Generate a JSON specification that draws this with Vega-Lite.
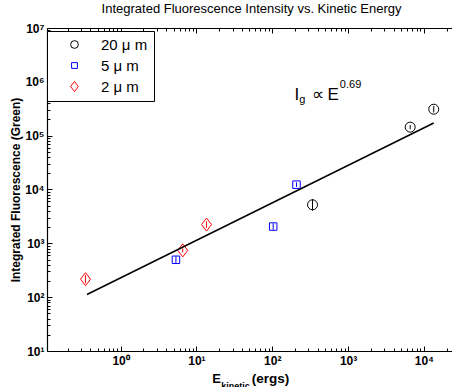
{
  "$schema": "https://vega.github.io/schema/vega-lite/v6.json",
  "autosize": {"type": "none"},
  "padding": {"left": 47, "top": 28, "right": 0, "bottom": 36},
  "width": 405,
  "height": 323,
  "title": {"text": "Integrated Fluorescence Intensity vs. Kinetic Energy", "font": "Liberation Sans", "fontSize": 13, "fontWeight": "normal", "color": "black", "offset": 6, "anchor": "middle", "dx": 2},
  "config": {
    "view": {"stroke": null},
    "font": "Liberation Sans",
    "axis": {"grid": false, "domainColor": "black", "domainWidth": 1.2, "tickColor": "black", "tickWidth": 1,
      "labelFont": "Liberation Sans", "labelFontWeight": "bold", "labelFontSize": 12, "labelColor": "black",
      "labelOverlap": false, "labelFlush": false, "labelBound": false,
      "titleFont": "Liberation Sans", "titleFontWeight": "bold", "titleColor": "black"}
  },
  "datasets": {
    "pts": [
      {"series": "20 μ m", "E": 340, "I": 5200, "lo": 4056, "hi": 6666},
      {"series": "20 μ m", "E": 6600, "I": 144000, "lo": 132000, "hi": 157000},
      {"series": "20 μ m", "E": 13500, "I": 310000, "lo": 270000, "hi": 357000},
      {"series": "5 μ m", "E": 209, "I": 12300, "lo": 11180, "hi": 13530},
      {"series": "5 μ m", "E": 103, "I": 2050, "lo": 1783, "hi": 2357},
      {"series": "5 μ m", "E": 5.37, "I": 495, "lo": 427, "hi": 574},
      {"series": "2 μ m", "E": 0.345, "I": 216, "lo": 182, "hi": 256},
      {"series": "2 μ m", "E": 6.6, "I": 740, "lo": 679, "hi": 807},
      {"series": "2 μ m", "E": 13.6, "I": 2230, "lo": 1939, "hi": 2565}
    ],
    "fit": [
      {"E": 0.36, "I": 112},
      {"E": 13500, "I": 172000}
    ],
    "bigtext": [
      {"t": "I", "E": 196, "I": 460000},
      {"t": "∝", "E": 330, "I": 460000},
      {"t": "E", "E": 534, "I": 460000}
    ],
    "smalltext": [
      {"t": "g", "E": 228, "I": 405000},
      {"t": "0.69", "E": 780, "I": 770000}
    ]
  },
  "resolve": {"axis": {"x": "independent"}},
  "layer": [
    {
      "data": {"name": "pts"},
      "mark": {"type": "point", "filled": false, "size": 100, "strokeWidth": 1, "opacity": 1},
      "encoding": {
        "x": {"field": "E", "type": "quantitative",
          "scale": {"type": "log", "domain": [0.107, 23500], "nice": false},
          "axis": {"orient": "bottom",
            "values": [0.2,0.3,0.4,0.5,0.6,0.7,0.8,0.9,1,2,3,4,5,6,7,8,9,10,20,30,40,50,60,70,80,90,100,200,300,400,500,600,700,800,900,1000,2000,3000,4000,5000,6000,7000,8000,9000,10000,20000],
            "labelExpr": "abs(log(datum.value)/LN10 - round(log(datum.value)/LN10)) < 0.001 ? '10' + ['⁰','¹','²','³','⁴','⁵','⁶','⁷'][round(log(datum.value)/LN10)] : ''",
            "tickSize": {"condition": {"test": "abs(log(datum.value)/LN10 - round(log(datum.value)/LN10)) < 0.001", "value": -5}, "value": -3},
            "labelPadding": 9,
            "title": "E", "titleFontSize": 13, "titleX": 169, "titleY": 31, "titleBaseline": "alphabetic", "titleAlign": "center"}},
        "y": {"field": "I", "type": "quantitative",
          "scale": {"type": "log", "domain": [10, 10000000], "nice": false},
          "axis": {
            "values": [10,20,30,40,50,60,70,80,90,100,200,300,400,500,600,700,800,900,1000,2000,3000,4000,5000,6000,7000,8000,9000,10000,20000,30000,40000,50000,60000,70000,80000,90000,100000,200000,300000,400000,500000,600000,700000,800000,900000,1000000,2000000,3000000,4000000,5000000,6000000,7000000,8000000,9000000,10000000],
            "labelExpr": "abs(log(datum.value)/LN10 - round(log(datum.value)/LN10)) < 0.001 ? '10' + ['⁰','¹','²','³','⁴','⁵','⁶','⁷'][round(log(datum.value)/LN10)] : ''",
            "tickSize": {"condition": {"test": "abs(log(datum.value)/LN10 - round(log(datum.value)/LN10)) < 0.001", "value": -5}, "value": -3},
            "labelPadding": 8,
            "title": "Integrated Fluorescence (Green)", "titleFontSize": 12, "titlePadding": 2}},
        "color": {"field": "series", "type": "nominal", "scale": {"domain": ["20 μ m", "5 μ m", "2 μ m"], "range": ["#000000", "#0000ff", "#ff0000"]},
          "legend": {"title": null, "orient": "none", "legendX": 0, "legendY": 3, "strokeColor": "black", "fillColor": "white", "padding": 6, "symbolOffset": 14, "labelOffset": 19, "labelFont": "Liberation Sans", "labelFontSize": 15, "labelColor": "black", "rowPadding": 5, "symbolSize": 60, "symbolStrokeWidth": 1}},
        "shape": {"field": "series", "type": "nominal", "scale": {"domain": ["20 μ m", "5 μ m", "2 μ m"], "range": ["circle", "M-0.75,-0.75L0.75,-0.75L0.75,0.75L-0.75,0.75Z", "M0,-1.3L1,0L0,1.3L-1,0Z"]},
          "legend": {"title": null, "orient": "none", "legendX": 0, "legendY": 3, "strokeColor": "black", "fillColor": "white", "padding": 6, "symbolOffset": 14, "labelOffset": 19, "labelFont": "Liberation Sans", "labelFontSize": 15, "labelColor": "black", "rowPadding": 5, "symbolSize": 60, "symbolStrokeWidth": 1}}
      }
    },
    {
      "data": {"name": "pts"},
      "mark": {"type": "rule", "strokeWidth": 1},
      "encoding": {
        "x": {"field": "E", "type": "quantitative",
          "axis": {"orient": "bottom", "labels": false, "ticks": false, "domain": false, "title": "kinetic", "titleFontSize": 9, "titleX": 188, "titleY": 37, "titleBaseline": "alphabetic", "titleAlign": "center"}},
        "y": {"field": "lo", "type": "quantitative"},
        "y2": {"field": "hi"},
        "stroke": {"field": "series", "type": "nominal", "scale": {"domain": ["20 μ m", "5 μ m", "2 μ m"], "range": ["#000000", "#0000ff", "#ff0000"]}, "legend": null}
      }
    },
    {
      "data": {"name": "fit"},
      "mark": {"type": "line", "color": "black", "strokeWidth": 1.5},
      "encoding": {
        "x": {"field": "E", "type": "quantitative",
          "axis": {"orient": "bottom", "labels": false, "ticks": false, "domain": false, "title": "(ergs)", "titleFontSize": 13.5, "titleX": 223, "titleY": 31, "titleBaseline": "alphabetic", "titleAlign": "center"}},
        "y": {"field": "I", "type": "quantitative"}
      }
    },
    {
      "data": {"name": "bigtext"},
      "mark": {"type": "text", "align": "left", "baseline": "alphabetic", "font": "Liberation Sans", "fontSize": 17, "color": "black"},
      "encoding": {
        "x": {"field": "E", "type": "quantitative",
          "axis": {"orient": "top", "labels": false, "title": null,
            "values": [0.2,0.3,0.4,0.5,0.6,0.7,0.8,0.9,1,2,3,4,5,6,7,8,9,10,20,30,40,50,60,70,80,90,100,200,300,400,500,600,700,800,900,1000,2000,3000,4000,5000,6000,7000,8000,9000,10000,20000],
            "tickSize": {"condition": {"test": "abs(log(datum.value)/LN10 - round(log(datum.value)/LN10)) < 0.001", "value": -5}, "value": -3}}},
        "y": {"field": "I", "type": "quantitative"},
        "text": {"field": "t"}
      }
    },
    {
      "data": {"name": "smalltext"},
      "mark": {"type": "text", "align": "left", "baseline": "alphabetic", "font": "Liberation Sans", "fontSize": 11, "color": "black"},
      "encoding": {
        "x": {"field": "E", "type": "quantitative", "axis": null},
        "y": {"field": "I", "type": "quantitative"},
        "text": {"field": "t"}
      }
    }
  ]
}
